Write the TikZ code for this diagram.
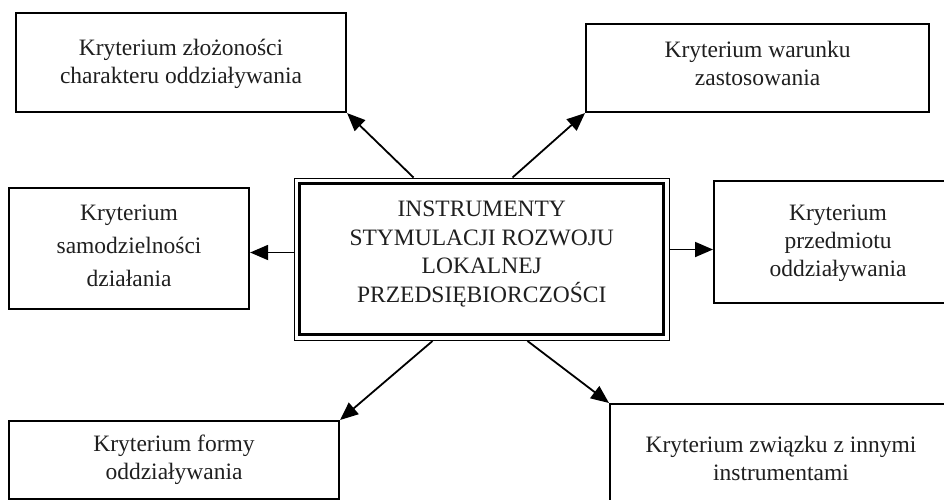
\documentclass[tikz,border=0pt]{standalone}
\usepackage{fontspec}
\setmainfont{Liberation Serif}
\usetikzlibrary{arrows.meta,calc}
\begin{document}
\begin{tikzpicture}[x=1pt,y=-1pt,
  crit/.style={draw=black,line width=2.1pt,anchor=north west,inner sep=0pt},
  lab/.style={align=center,text=black!88,inner sep=0pt,
    font=\fontsize{23.5}{28}\selectfont},
  arr/.style={line width=1.8pt,-{Triangle[length=18pt,width=15pt]}}]
\useasboundingbox (0,0) rectangle (944,499);
\clip (0,0) rectangle (944,499);
\fill[white] (0,0) rectangle (944,499);
% central box
\node[draw=black,line width=1.5pt,anchor=north west,minimum width=375pt,minimum height=162pt,
  inner sep=0pt,
  label={[lab,yshift=5pt,font=\fontsize{23.5}{28.5}\selectfont]center:INSTRUMENTY\\STYMULACJI ROZWOJU\\LOKALNEJ\\PRZEDSIĘBIORCZOŚCI}]
  (c) at (293.5,177.5) {};
\draw[line width=3pt] ($(c.north west)+(6.3,6.3)$) rectangle ($(c.south east)+(-6.3,-6.3)$);
% criterion boxes
\node[crit,minimum width=330pt,minimum height=99pt,
  label={[lab,yshift=-1pt]center:Kryterium złożoności\\charakteru oddziaływania}] (tl) at (15,12) {};
\node[crit,minimum width=343pt,minimum height=88pt,
  label={[lab,yshift=5pt]center:Kryterium warunku\\zastosowania}] (tr) at (585,23) {};
\node[crit,minimum width=240pt,minimum height=121pt,
  label={[lab,yshift=2.5pt,font=\fontsize{23.5}{33}\selectfont]center:Kryterium\\samodzielności\\działania}] (lf) at (8,187) {};
\node[crit,minimum width=248pt,minimum height=122pt,
  label={[lab,yshift=-1pt]center:Kryterium\\przedmiotu\\oddziaływania}] (rt) at (713,180) {};
\node[crit,minimum width=330pt,minimum height=78pt,
  label={[lab]center:Kryterium formy\\oddziaływania}] (bl) at (8,420) {};
\node[crit,minimum width=342pt,minimum height=108pt,
  label={[lab]center:Kryterium związku z innymi\\instrumentami}] (br) at (609,403) {};
% connectors
\coordinate (s1) at ($(c.north west)+(120,0)$);
\coordinate (s2) at ($(c.north west)+(219,0)$);
\coordinate (s3) at ($(c.south west)+(139,0)$);
\coordinate (s4) at ($(c.south west)+(234,0)$);
\coordinate (s5) at ($(c.north west)+(0,75)$);
\coordinate (s6) at ($(c.north east)+(0,72)$);
\draw[arr] (s1) -- (tl.south east);
\draw[arr] (s2) -- (tr.south west);
\draw[arr] (s3) -- (bl.north east);
\draw[arr] (s4) -- (br.north west);
\draw[arr] (s5) -- (s5 -| lf.east);
\draw[arr] (s6) -- (s6 -| rt.west);
\end{tikzpicture}
\end{document}
